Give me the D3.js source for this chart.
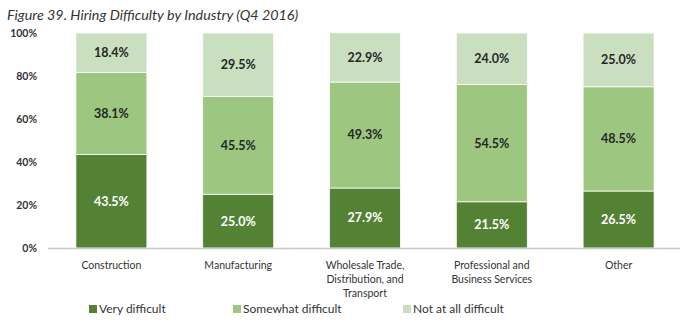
<!DOCTYPE html>
<html>
<head>
<meta charset="utf-8">
<script src="https://cdn.jsdelivr.net/npm/d3@7"></script>
<style>
  body { margin: 0; background: #fff; }
  svg { display: block; font-family: Lato, sans-serif; }
</style>
</head>
<body>
<div id="chart"></div>
<script>
// Data
const industries = [
    ["Construction"],
    ["Manufacturing"],
    ["Wholesale Trade,", "Distribution, and", "Transport"],
    ["Professional and", "Business Services"],
    ["Other"]
];
const veryDifficult = [43.5, 25.0, 27.9, 21.5, 26.5];
const somewhatDifficult = [38.1, 45.5, 49.3, 54.5, 48.5];
const notAtAllDifficult = [18.4, 29.5, 22.9, 24.0, 25.0];
const seriesNames = ["Very difficult", "Somewhat difficult", "Not at all difficult"];
const yTicks = [0, 20, 40, 60, 80, 100];

let dimensions = {
    width: 680,
    height: 324,
    margins: {
        top: 33,
        bottom: 76,
        left: 48,
        right: -2,
    }
}

const colors = ["#548235", "#9dc680", "#c9dfbf"];
const labelColors = ["#ffffff", "#262626", "#262626"];

const rows = industries.map((name, i) => ({
    key: i,
    "Very difficult": veryDifficult[i],
    "Somewhat difficult": somewhatDifficult[i],
    "Not at all difficult": notAtAllDifficult[i]
}));

const stacked = d3.stack().keys(seriesNames)(rows);

const svg = d3.select('#chart').append('svg')
    .attr('width', dimensions.width)
    .attr('height', dimensions.height);

const plotW = dimensions.width - dimensions.margins.left - dimensions.margins.right;
const plotH = dimensions.height - dimensions.margins.top - dimensions.margins.bottom;

const xScale = d3.scaleBand()
    .domain(d3.range(industries.length))
    .range([0, plotW])
    .paddingInner(0.44)
    .paddingOuter(0.22);

const yScale = d3.scaleLinear()
    .domain([0, 100])
    .range([plotH, 0]);

// Title
svg.append('text')
    .attr('x', 7)
    .attr('y', 20)
    .attr('font-size', 14.3)
    .attr('font-style', 'italic')
    .attr('fill', '#333')
    .text('Figure 39. Hiring Difficulty by Industry (Q4 2016)');

const ctr = svg.append('g')
    .attr('transform', `translate(${dimensions.margins.left}, ${dimensions.margins.top})`);

// Y axis labels
const yAxis = d3.axisLeft(yScale)
    .tickValues(yTicks)
    .tickFormat(d => d + '%')
    .tickSize(0)
    .tickPadding(11);

ctr.append('g')
    .call(yAxis)
    .call(g => g.select('.domain').remove())
    .selectAll('text')
    .attr('font-family', 'Lato, sans-serif')
    .attr('font-size', 10.5)
    .attr('font-weight', 'bold')
    .attr('fill', '#333');

// Stacked bars
const layers = ctr.selectAll('g.layer')
    .data(stacked)
    .join('g')
    .classed('layer', true)
    .attr('fill', (d, i) => colors[i]);

layers.selectAll('rect')
    .data(d => d)
    .join('rect')
    .attr('x', d => xScale(d.data.key))
    .attr('width', xScale.bandwidth())
    .attr('y', d => yScale(d[1]))
    .attr('height', d => yScale(d[0]) - yScale(d[1]))
    .attr('stroke', '#fff')
    .attr('stroke-width', 0.8);

// Value labels
stacked.forEach((layer, li) => {
    ctr.append('g').selectAll('text')
        .data(layer)
        .join('text')
        .attr('x', d => xScale(d.data.key) + xScale.bandwidth() / 2)
        .attr('y', d => yScale((d[0] + d[1]) / 2))
        .attr('dy', '0.35em')
        .attr('text-anchor', 'middle')
        .attr('font-size', 12.5)
        .attr('font-weight', 'bold')
        .attr('fill', labelColors[li])
        .text(d => d.data[layer.key].toFixed(1) + '%');
});

// Baseline
ctr.append('line')
    .attr('x1', 0)
    .attr('x2', plotW)
    .attr('y1', yScale(0) + 0.5)
    .attr('y2', yScale(0) + 0.5)
    .attr('stroke', '#c8c8c8')
    .attr('stroke-width', 1.5);

// Category labels
const xLabels = ctr.append('g')
    .attr('transform', `translate(0, ${plotH})`);

xLabels.selectAll('text')
    .data(industries)
    .join('text')
    .attr('x', (d, i) => xScale(i) + xScale.bandwidth() / 2)
    .attr('y', 21)
    .attr('text-anchor', 'middle')
    .attr('font-size', 10.5)
    .attr('fill', '#333')
    .each(function (lines) {
        d3.select(this).selectAll('tspan')
            .data(lines)
            .join('tspan')
            .attr('x', d3.select(this).attr('x'))
            .attr('dy', (d, i) => i === 0 ? 0 : 14)
            .text(d => d);
    });

// Legend
const legendX = [89, 233, 403];
const legend = svg.append('g')
    .selectAll('g')
    .data(seriesNames)
    .join('g')
    .attr('transform', (d, i) => `translate(${legendX[i]}, 309)`);

legend.append('rect')
    .attr('x', 0)
    .attr('y', -4)
    .attr('width', 8)
    .attr('height', 8)
    .attr('fill', (d, i) => colors[i]);

legend.append('text')
    .attr('x', 10)
    .attr('dy', '0.35em')
    .attr('font-size', 12)
    .attr('fill', '#333')
    .text(d => d);
</script>
</body>
</html>
